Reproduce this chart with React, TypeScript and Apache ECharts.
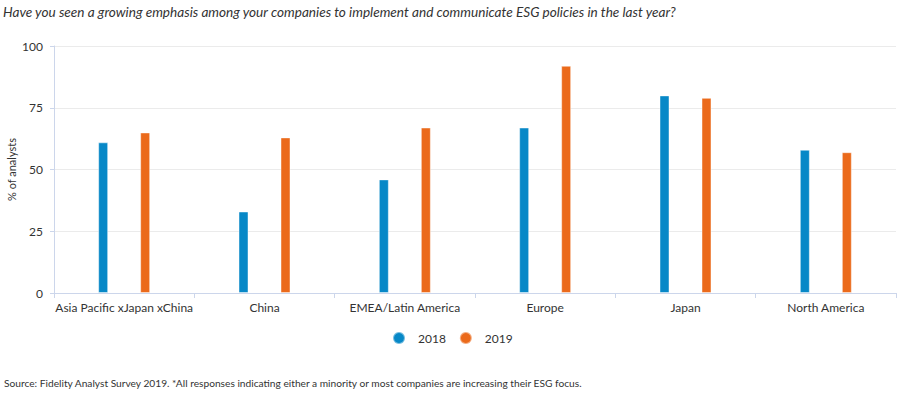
import React, { useEffect, useRef } from "react";
import * as echarts from "echarts";

const categories = [
  "Asia Pacific xJapan xChina",
  "China",
  "EMEA/Latin America",
  "Europe",
  "Japan",
  "North America",
];
const values2018 = [61, 33, 46, 67, 80, 58];
const values2019 = [65, 63, 67, 92, 79, 57];
const yTicks = [0, 25, 50, 75, 100];

const FONT = "Lato, 'Open Sans', sans-serif";

export default function App() {
  const ref = useRef<HTMLDivElement>(null);
  useEffect(() => {
    if (!ref.current) return;
    const chart = echarts.init(ref.current, null, { renderer: "svg" });
    chart.setOption({
      animation: false,
      textStyle: { fontFamily: FONT },
      title: [
        {
          text: "Have you seen a growing emphasis among your companies to implement and communicate ESG policies in the last year?",
          left: 3,
          top: 5,
          padding: [0, 0, 0, 0],
          textStyle: { fontSize: 13.6, fontStyle: "italic", fontWeight: "normal", color: "#333", fontFamily: FONT },
        },
        {
          text: "Source: Fidelity Analyst Survey 2019. *All responses indicating either a minority or most companies are increasing their ESG focus.",
          left: 4,
          top: 378,
          padding: [0, 0, 0, 0],
          textStyle: { fontSize: 10.2, fontWeight: "normal", color: "#333", fontFamily: FONT },
        },
      ],
      legend: {
        left: 387,
        top: 326,
        icon: "circle",
        itemWidth: 12,
        itemHeight: 12,
        itemGap: 13,
        textStyle: { fontSize: 12, color: "#333", fontFamily: FONT, padding: [0, 0, 0, 8] },
        data: ["2018", "2019"],
      },
      grid: { left: 54, right: 8, top: 46, bottom: 103, outerBoundsMode: "none", containLabel: false },
      xAxis: {
        type: "category",
        data: categories,
        axisLine: { lineStyle: { color: "#ccd6eb", width: 1 } },
        axisTick: { show: true, length: 5, lineStyle: { color: "#ccd6eb" } },
        axisLabel: { interval: 0, fontSize: 12, color: "#333", margin: 8, fontFamily: FONT },
      },
      yAxis: {
        type: "value",
        min: yTicks[0],
        max: yTicks[yTicks.length - 1],
        interval: 25,
        name: "% of analysts",
        nameLocation: "middle",
        nameGap: 37,
        nameMoveOverlap: false,
        nameTextStyle: { fontSize: 11, color: "#333", fontFamily: FONT },
        axisLine: { show: true, lineStyle: { color: "#ccd6eb" } },
        axisTick: { show: true, length: 4, lineStyle: { color: "#ccd6eb" } },
        axisLabel: { fontSize: 12, color: "#333", margin: 11, fontFamily: FONT },
        splitLine: { lineStyle: { color: "#ebebeb" } },
      },
      series: [
        {
          name: "2018",
          type: "bar",
          data: values2018,
          barWidth: 10,
          barGap: "320%",
          itemStyle: { color: "#0788c7", borderColor: "rgba(255,255,255,0.45)", borderWidth: 1 },
        },
        {
          name: "2019",
          type: "bar",
          data: values2019,
          barWidth: 10,
          barGap: "320%",
          itemStyle: { color: "#eb6a1b", borderColor: "rgba(255,255,255,0.45)", borderWidth: 1 },
        },
      ],
    });
    return () => chart.dispose();
  }, []);
  return (
    <div
      ref={ref}
      style={{ position: "absolute", left: 0, top: 0, width: 904, height: 396 }}
    />
  );
}
